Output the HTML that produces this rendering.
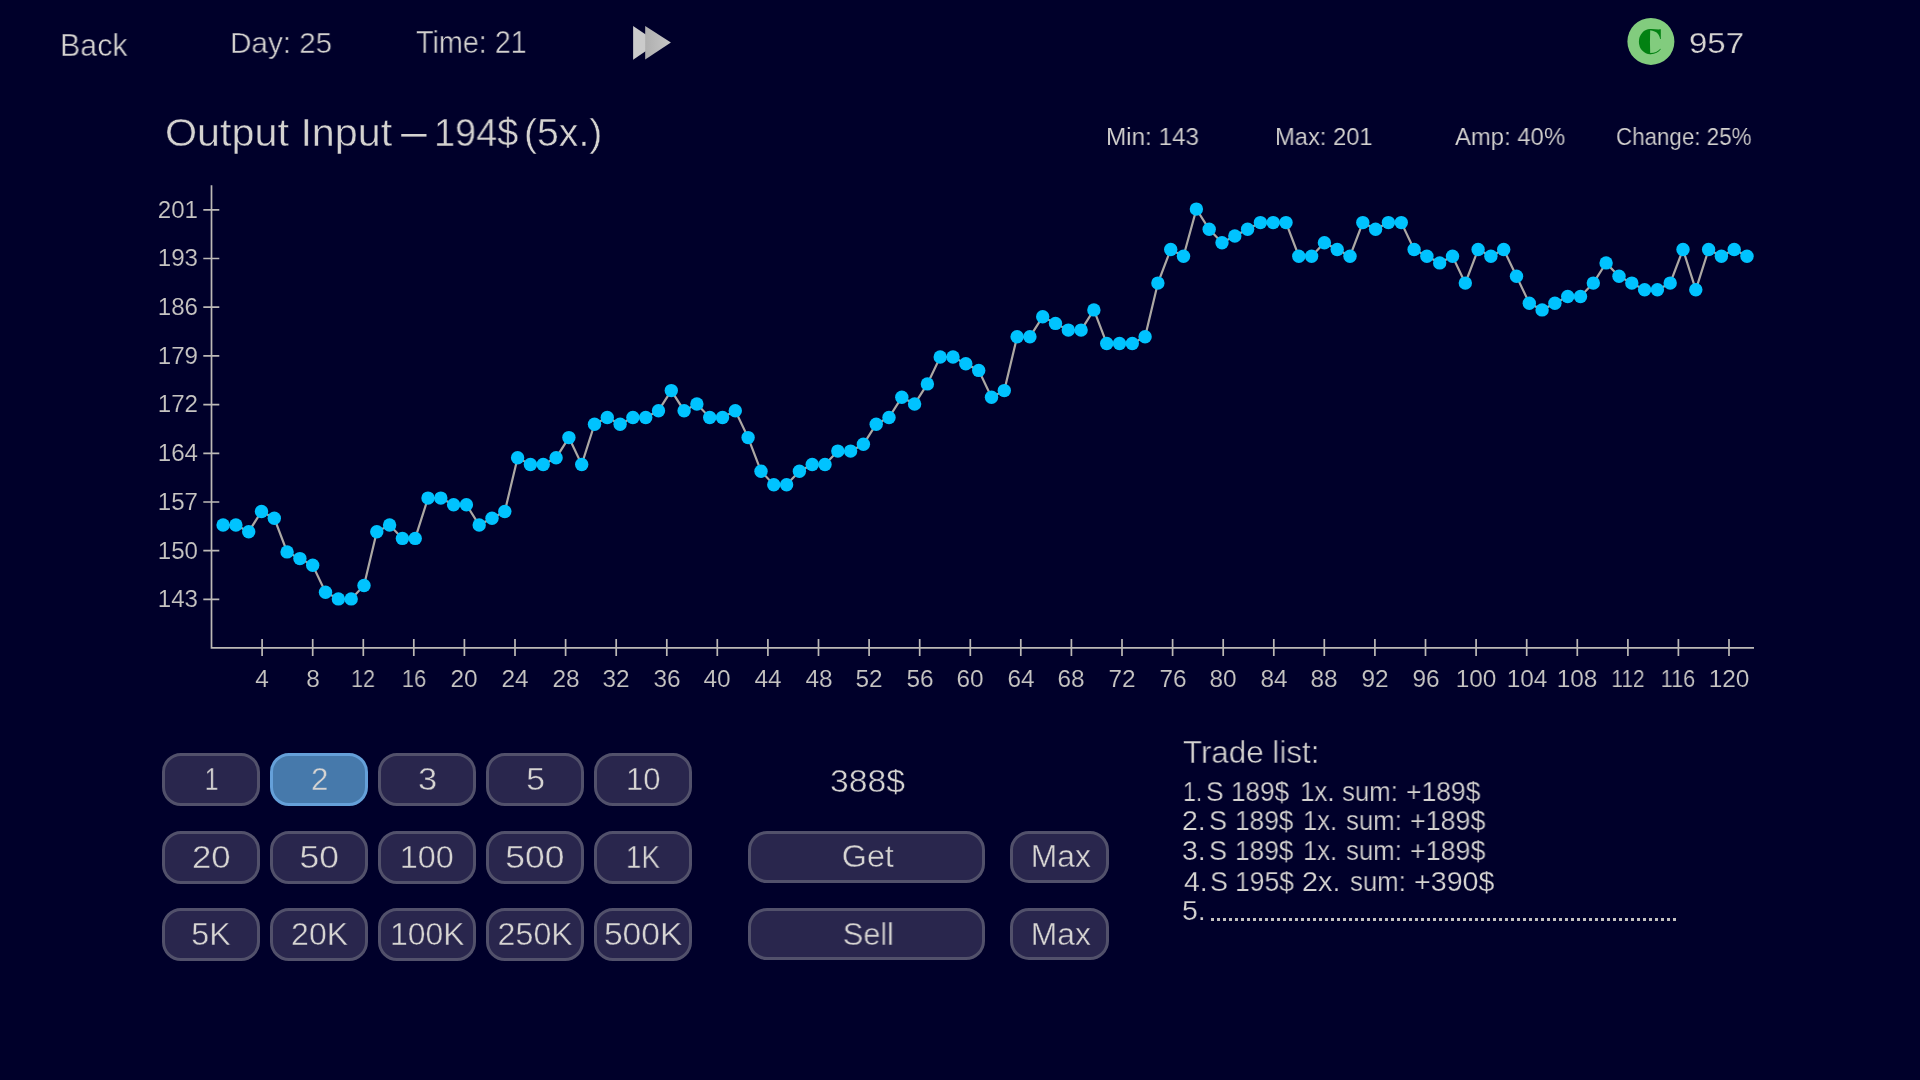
<!DOCTYPE html>
<html><head><meta charset="utf-8"><style>
html,body{margin:0;padding:0;}
body{width:1920px;height:1080px;background:#00002a;position:relative;overflow:hidden;font-family:"Liberation Sans",sans-serif;color:#d4d2d0;}
.t{position:absolute;white-space:nowrap;line-height:1;transform-origin:0 0;will-change:transform;-webkit-text-stroke:0.6px #00002a;}
.yl{position:absolute;left:97px;width:101px;text-align:right;line-height:1;color:#c6c4c2;will-change:transform;-webkit-text-stroke:0.15px #00002a;}
.xl{position:absolute;width:80px;text-align:center;line-height:1;color:#c6c4c2;will-change:transform;-webkit-text-stroke:0.15px #00002a;}
.b{position:absolute;box-sizing:border-box;border:3px solid #52516b;background:#29264d;border-radius:19px;display:flex;align-items:center;justify-content:center;font-size:31px;line-height:1;color:#d6d4d2;}
.b span{display:inline-block;padding-top:0px;will-change:transform;-webkit-text-stroke:0.4px #29264d;}
.b.sel span{-webkit-text-stroke:0.4px #4679ab;}
.b.sel{background:#4679ab;border-color:#65a0d9;}
svg{position:absolute;left:0;top:0;}
.dots{position:absolute;left:1210.5px;top:917.7px;width:466px;height:3.2px;background:repeating-linear-gradient(90deg,#c4c2c0 0 3.2px,transparent 3.2px 6px);}
</style></head><body>
<svg width="1920" height="1080" viewBox="0 0 1920 1080">
<defs><linearGradient id="ffg" x1="0" x2="1" y1="0" y2="0"><stop offset="0" stop-color="#afafaf"/><stop offset="1" stop-color="#c6c6c6"/></linearGradient></defs>
<polygon points="633.1,25.9 658,42.8 633.1,59.7" fill="#cbcbcb"/>
<polygon points="645.2,26.1 670.9,42.6 645.2,59.4" fill="url(#ffg)"/>
<circle cx="1650.9" cy="41.4" r="23.5" fill="#82cc7e"/>
<g transform="translate(1649.9 41.7)" fill="#028112"><path d="M0.3 -12.6A11.3 12.6 0 0 0 0.3 12.6L0.3 11.6Q-0.2 0 0.3 -11.6Z"/><path d="M0 -12.6C4 -12.8 7.5 -12 10.9 -12.4L10.9 -2.6L10.2 -2.6C9.6 -6.5 7.6 -10.6 0 -11.4Z"/><path d="M0 12.6C5 12.8 8.6 10.8 11 7.4L10.5 7.0C8 9.8 4.5 11.5 0 11.4Z"/></g>
<path d="M211.5 185.2V647.8H1754" fill="none" stroke="#bcb9b6" stroke-width="1.7"/>
<path d="M203.3 209.8H219.3 M203.3 258.5H219.3 M203.3 307.2H219.3 M203.3 355.9H219.3 M203.3 404.6H219.3 M203.3 453.3H219.3 M203.3 502.0H219.3 M203.3 550.7H219.3 M203.3 599.4H219.3 M262.1 639V656 M312.7 639V656 M363.3 639V656 M413.8 639V656 M464.4 639V656 M515.0 639V656 M565.6 639V656 M616.2 639V656 M666.8 639V656 M717.3 639V656 M767.9 639V656 M818.5 639V656 M869.1 639V656 M919.7 639V656 M970.3 639V656 M1020.8 639V656 M1071.4 639V656 M1122.0 639V656 M1172.6 639V656 M1223.2 639V656 M1273.8 639V656 M1324.3 639V656 M1374.9 639V656 M1425.5 639V656 M1476.1 639V656 M1526.7 639V656 M1577.3 639V656 M1627.9 639V656 M1678.4 639V656 M1729.0 639V656" fill="none" stroke="#bcb9b6" stroke-width="1.7"/>
<rect x="401.25" y="134" width="25.25" height="2.6" fill="#d4d2d0"/>
<polyline points="223.1,525.0 235.9,525.0 248.7,531.7 261.5,511.5 274.3,518.3 287.1,551.9 299.9,558.6 312.7,565.3 325.5,592.2 338.4,598.9 351.2,598.9 364.0,585.5 376.8,531.7 389.6,525.0 402.4,538.4 415.2,538.4 428.0,498.1 440.8,498.1 453.6,504.8 466.4,504.8 479.2,525.0 492.0,518.3 504.8,511.5 517.6,457.8 530.4,464.5 543.2,464.5 556.1,457.8 568.9,437.6 581.7,464.5 594.5,424.2 607.3,417.5 620.1,424.2 632.9,417.5 645.7,417.5 658.5,410.7 671.3,390.6 684.1,410.7 696.9,404.0 709.7,417.5 722.5,417.5 735.3,410.7 748.1,437.6 761.0,471.2 773.8,484.7 786.6,484.7 799.4,471.2 812.2,464.5 825.0,464.5 837.8,451.1 850.6,451.1 863.4,444.3 876.2,424.2 889.0,417.5 901.8,397.3 914.6,404.0 927.4,383.9 940.2,357.0 953.0,357.0 965.8,363.7 978.7,370.4 991.5,397.3 1004.3,390.6 1017.1,336.8 1029.9,336.8 1042.7,316.7 1055.5,323.4 1068.3,330.1 1081.1,330.1 1093.9,309.9 1106.7,343.5 1119.5,343.5 1132.3,343.5 1145.1,336.8 1157.9,283.1 1170.7,249.5 1183.5,256.2 1196.4,209.1 1209.2,229.3 1222.0,242.7 1234.8,236.0 1247.6,229.3 1260.4,222.6 1273.2,222.6 1286.0,222.6 1298.8,256.2 1311.6,256.2 1324.4,242.7 1337.2,249.5 1350.0,256.2 1362.8,222.6 1375.6,229.3 1388.4,222.6 1401.3,222.6 1414.1,249.5 1426.9,256.2 1439.7,262.9 1452.5,256.2 1465.3,283.1 1478.1,249.5 1490.9,256.2 1503.7,249.5 1516.5,276.3 1529.3,303.2 1542.1,309.9 1554.9,303.2 1567.7,296.5 1580.5,296.5 1593.3,283.1 1606.1,262.9 1619.0,276.3 1631.8,283.1 1644.6,289.8 1657.4,289.8 1670.2,283.1 1683.0,249.5 1695.8,289.8 1708.6,249.5 1721.4,256.2 1734.2,249.5 1747.0,256.2" fill="none" stroke="#aca8a4" stroke-width="2.2"/>
<g fill="#00c3ff"><circle cx="223.1" cy="525.0" r="6.7"/><circle cx="235.9" cy="525.0" r="6.7"/><circle cx="248.7" cy="531.7" r="6.7"/><circle cx="261.5" cy="511.5" r="6.7"/><circle cx="274.3" cy="518.3" r="6.7"/><circle cx="287.1" cy="551.9" r="6.7"/><circle cx="299.9" cy="558.6" r="6.7"/><circle cx="312.7" cy="565.3" r="6.7"/><circle cx="325.5" cy="592.2" r="6.7"/><circle cx="338.4" cy="598.9" r="6.7"/><circle cx="351.2" cy="598.9" r="6.7"/><circle cx="364.0" cy="585.5" r="6.7"/><circle cx="376.8" cy="531.7" r="6.7"/><circle cx="389.6" cy="525.0" r="6.7"/><circle cx="402.4" cy="538.4" r="6.7"/><circle cx="415.2" cy="538.4" r="6.7"/><circle cx="428.0" cy="498.1" r="6.7"/><circle cx="440.8" cy="498.1" r="6.7"/><circle cx="453.6" cy="504.8" r="6.7"/><circle cx="466.4" cy="504.8" r="6.7"/><circle cx="479.2" cy="525.0" r="6.7"/><circle cx="492.0" cy="518.3" r="6.7"/><circle cx="504.8" cy="511.5" r="6.7"/><circle cx="517.6" cy="457.8" r="6.7"/><circle cx="530.4" cy="464.5" r="6.7"/><circle cx="543.2" cy="464.5" r="6.7"/><circle cx="556.1" cy="457.8" r="6.7"/><circle cx="568.9" cy="437.6" r="6.7"/><circle cx="581.7" cy="464.5" r="6.7"/><circle cx="594.5" cy="424.2" r="6.7"/><circle cx="607.3" cy="417.5" r="6.7"/><circle cx="620.1" cy="424.2" r="6.7"/><circle cx="632.9" cy="417.5" r="6.7"/><circle cx="645.7" cy="417.5" r="6.7"/><circle cx="658.5" cy="410.7" r="6.7"/><circle cx="671.3" cy="390.6" r="6.7"/><circle cx="684.1" cy="410.7" r="6.7"/><circle cx="696.9" cy="404.0" r="6.7"/><circle cx="709.7" cy="417.5" r="6.7"/><circle cx="722.5" cy="417.5" r="6.7"/><circle cx="735.3" cy="410.7" r="6.7"/><circle cx="748.1" cy="437.6" r="6.7"/><circle cx="761.0" cy="471.2" r="6.7"/><circle cx="773.8" cy="484.7" r="6.7"/><circle cx="786.6" cy="484.7" r="6.7"/><circle cx="799.4" cy="471.2" r="6.7"/><circle cx="812.2" cy="464.5" r="6.7"/><circle cx="825.0" cy="464.5" r="6.7"/><circle cx="837.8" cy="451.1" r="6.7"/><circle cx="850.6" cy="451.1" r="6.7"/><circle cx="863.4" cy="444.3" r="6.7"/><circle cx="876.2" cy="424.2" r="6.7"/><circle cx="889.0" cy="417.5" r="6.7"/><circle cx="901.8" cy="397.3" r="6.7"/><circle cx="914.6" cy="404.0" r="6.7"/><circle cx="927.4" cy="383.9" r="6.7"/><circle cx="940.2" cy="357.0" r="6.7"/><circle cx="953.0" cy="357.0" r="6.7"/><circle cx="965.8" cy="363.7" r="6.7"/><circle cx="978.7" cy="370.4" r="6.7"/><circle cx="991.5" cy="397.3" r="6.7"/><circle cx="1004.3" cy="390.6" r="6.7"/><circle cx="1017.1" cy="336.8" r="6.7"/><circle cx="1029.9" cy="336.8" r="6.7"/><circle cx="1042.7" cy="316.7" r="6.7"/><circle cx="1055.5" cy="323.4" r="6.7"/><circle cx="1068.3" cy="330.1" r="6.7"/><circle cx="1081.1" cy="330.1" r="6.7"/><circle cx="1093.9" cy="309.9" r="6.7"/><circle cx="1106.7" cy="343.5" r="6.7"/><circle cx="1119.5" cy="343.5" r="6.7"/><circle cx="1132.3" cy="343.5" r="6.7"/><circle cx="1145.1" cy="336.8" r="6.7"/><circle cx="1157.9" cy="283.1" r="6.7"/><circle cx="1170.7" cy="249.5" r="6.7"/><circle cx="1183.5" cy="256.2" r="6.7"/><circle cx="1196.4" cy="209.1" r="6.7"/><circle cx="1209.2" cy="229.3" r="6.7"/><circle cx="1222.0" cy="242.7" r="6.7"/><circle cx="1234.8" cy="236.0" r="6.7"/><circle cx="1247.6" cy="229.3" r="6.7"/><circle cx="1260.4" cy="222.6" r="6.7"/><circle cx="1273.2" cy="222.6" r="6.7"/><circle cx="1286.0" cy="222.6" r="6.7"/><circle cx="1298.8" cy="256.2" r="6.7"/><circle cx="1311.6" cy="256.2" r="6.7"/><circle cx="1324.4" cy="242.7" r="6.7"/><circle cx="1337.2" cy="249.5" r="6.7"/><circle cx="1350.0" cy="256.2" r="6.7"/><circle cx="1362.8" cy="222.6" r="6.7"/><circle cx="1375.6" cy="229.3" r="6.7"/><circle cx="1388.4" cy="222.6" r="6.7"/><circle cx="1401.3" cy="222.6" r="6.7"/><circle cx="1414.1" cy="249.5" r="6.7"/><circle cx="1426.9" cy="256.2" r="6.7"/><circle cx="1439.7" cy="262.9" r="6.7"/><circle cx="1452.5" cy="256.2" r="6.7"/><circle cx="1465.3" cy="283.1" r="6.7"/><circle cx="1478.1" cy="249.5" r="6.7"/><circle cx="1490.9" cy="256.2" r="6.7"/><circle cx="1503.7" cy="249.5" r="6.7"/><circle cx="1516.5" cy="276.3" r="6.7"/><circle cx="1529.3" cy="303.2" r="6.7"/><circle cx="1542.1" cy="309.9" r="6.7"/><circle cx="1554.9" cy="303.2" r="6.7"/><circle cx="1567.7" cy="296.5" r="6.7"/><circle cx="1580.5" cy="296.5" r="6.7"/><circle cx="1593.3" cy="283.1" r="6.7"/><circle cx="1606.1" cy="262.9" r="6.7"/><circle cx="1619.0" cy="276.3" r="6.7"/><circle cx="1631.8" cy="283.1" r="6.7"/><circle cx="1644.6" cy="289.8" r="6.7"/><circle cx="1657.4" cy="289.8" r="6.7"/><circle cx="1670.2" cy="283.1" r="6.7"/><circle cx="1683.0" cy="249.5" r="6.7"/><circle cx="1695.8" cy="289.8" r="6.7"/><circle cx="1708.6" cy="249.5" r="6.7"/><circle cx="1721.4" cy="256.2" r="6.7"/><circle cx="1734.2" cy="249.5" r="6.7"/><circle cx="1747.0" cy="256.2" r="6.7"/></g>
</svg>
<div class="t" id="back" style="left:59.59px;top:29.86px;font-size:31.18px;transform:scaleX(0.9746);color:#d4d2d0;-webkit-text-stroke:0.45px #00002a">Back</div><div class="t" id="day" style="left:230.42px;top:27.71px;font-size:30.23px;transform:scaleX(0.9816);color:#d4d2d0;-webkit-text-stroke:0.45px #00002a">Day: 25</div><div class="t" id="time" style="left:415.63px;top:28.21px;font-size:30.81px;transform:scaleX(0.9328);color:#d4d2d0;-webkit-text-stroke:0.45px #00002a">Time: 21</div><div class="t" id="coins" style="left:1688.81px;top:27.77px;font-size:29.80px;transform:scaleX(1.1087);color:#d4d2d0;-webkit-text-stroke:0.25px #00002a">957</div><div class="t" id="t1" style="left:165.31px;top:113.51px;font-size:38.37px;transform:scaleX(1.0762);color:#d4d2d0;-webkit-text-stroke:0.45px #00002a">Output Input</div><div class="t" id="t2" style="left:433.74px;top:113.51px;font-size:38.37px;transform:scaleX(0.9877);color:#d4d2d0;-webkit-text-stroke:0.45px #00002a">194$</div><div class="t" id="t3" style="left:523.63px;top:113.51px;font-size:38.37px;transform:scaleX(1.0214);color:#d4d2d0;-webkit-text-stroke:0.45px #00002a">(5x.)</div><div class="t" id="min" style="left:1106.15px;top:124.53px;font-size:24.42px;transform:scaleX(0.9935);color:#d4d2d0;-webkit-text-stroke:0.15px #00002a">Min: 143</div><div class="t" id="max" style="left:1275.20px;top:124.53px;font-size:24.42px;transform:scaleX(0.9723);color:#d4d2d0;-webkit-text-stroke:0.15px #00002a">Max: 201</div><div class="t" id="amp" style="left:1455.14px;top:124.53px;font-size:24.42px;transform:scaleX(0.9778);color:#d4d2d0;-webkit-text-stroke:0.15px #00002a">Amp: 40%</div><div class="t" id="chg" style="left:1615.85px;top:124.53px;font-size:24.42px;transform:scaleX(0.9157);color:#d4d2d0;-webkit-text-stroke:0.15px #00002a">Change: 25%</div><div class="t" id="money" style="left:830.21px;top:766.37px;font-size:31.10px;transform:scaleX(1.0854);color:#d4d2d0;-webkit-text-stroke:0.45px #00002a">388$</div><div class="t" id="trade" style="left:1182.90px;top:737.05px;font-size:31.83px;transform:scaleX(0.9846);color:#d4d2d0;-webkit-text-stroke:0.45px #00002a">Trade list:</div><div class="t" id="tl0_0" style="left:1182.83px;top:776.88px;font-size:28.49px;transform:scaleX(0.8146);color:#d4d2d0;-webkit-text-stroke:0.25px #00002a">1.</div><div class="t" id="tl0_1" style="left:1205.59px;top:776.88px;font-size:28.49px;transform:scaleX(0.9240);color:#d4d2d0;-webkit-text-stroke:0.25px #00002a">S</div><div class="t" id="tl0_2" style="left:1231.42px;top:776.88px;font-size:28.49px;transform:scaleX(0.9165);color:#d4d2d0;-webkit-text-stroke:0.25px #00002a">189$</div><div class="t" id="tl0_3" style="left:1299.83px;top:776.88px;font-size:28.49px;transform:scaleX(0.9121);color:#d4d2d0;-webkit-text-stroke:0.25px #00002a">1x.</div><div class="t" id="tl0_4" style="left:1342.35px;top:776.88px;font-size:28.49px;transform:scaleX(0.9064);color:#d4d2d0;-webkit-text-stroke:0.25px #00002a">sum:</div><div class="t" id="tl0_5" style="left:1406.43px;top:776.88px;font-size:28.49px;transform:scaleX(0.9293);color:#d4d2d0;-webkit-text-stroke:0.25px #00002a">+189$</div><div class="t" id="tl1_0" style="left:1182.29px;top:806.48px;font-size:28.49px;transform:scaleX(0.9840);color:#d4d2d0;-webkit-text-stroke:0.25px #00002a">2.</div><div class="t" id="tl1_1" style="left:1209.00px;top:806.48px;font-size:28.49px;transform:scaleX(0.9503);color:#d4d2d0;-webkit-text-stroke:0.25px #00002a">S</div><div class="t" id="tl1_2" style="left:1234.83px;top:806.48px;font-size:28.49px;transform:scaleX(0.9218);color:#d4d2d0;-webkit-text-stroke:0.25px #00002a">189$</div><div class="t" id="tl1_3" style="left:1302.68px;top:806.48px;font-size:28.49px;transform:scaleX(0.8992);color:#d4d2d0;-webkit-text-stroke:0.25px #00002a">1x.</div><div class="t" id="tl1_4" style="left:1345.75px;top:806.48px;font-size:28.49px;transform:scaleX(0.9062);color:#d4d2d0;-webkit-text-stroke:0.25px #00002a">sum:</div><div class="t" id="tl1_5" style="left:1409.80px;top:806.48px;font-size:28.49px;transform:scaleX(0.9418);color:#d4d2d0;-webkit-text-stroke:0.25px #00002a">+189$</div><div class="t" id="tl2_0" style="left:1182.21px;top:836.48px;font-size:28.49px;transform:scaleX(0.9868);color:#d4d2d0;-webkit-text-stroke:0.25px #00002a">3.</div><div class="t" id="tl2_1" style="left:1209.00px;top:836.48px;font-size:28.49px;transform:scaleX(0.9503);color:#d4d2d0;-webkit-text-stroke:0.25px #00002a">S</div><div class="t" id="tl2_2" style="left:1234.83px;top:836.48px;font-size:28.49px;transform:scaleX(0.9218);color:#d4d2d0;-webkit-text-stroke:0.25px #00002a">189$</div><div class="t" id="tl2_3" style="left:1302.68px;top:836.48px;font-size:28.49px;transform:scaleX(0.8992);color:#d4d2d0;-webkit-text-stroke:0.25px #00002a">1x.</div><div class="t" id="tl2_4" style="left:1345.75px;top:836.48px;font-size:28.49px;transform:scaleX(0.9062);color:#d4d2d0;-webkit-text-stroke:0.25px #00002a">sum:</div><div class="t" id="tl2_5" style="left:1409.80px;top:836.48px;font-size:28.49px;transform:scaleX(0.9418);color:#d4d2d0;-webkit-text-stroke:0.25px #00002a">+189$</div><div class="t" id="tl3_0" style="left:1183.69px;top:866.68px;font-size:28.49px;transform:scaleX(1.0000);color:#d4d2d0;-webkit-text-stroke:0.25px #00002a">4.</div><div class="t" id="tl3_1" style="left:1209.84px;top:866.68px;font-size:28.49px;transform:scaleX(0.9421);color:#d4d2d0;-webkit-text-stroke:0.25px #00002a">S</div><div class="t" id="tl3_2" style="left:1235.43px;top:866.68px;font-size:28.49px;transform:scaleX(0.9298);color:#d4d2d0;-webkit-text-stroke:0.25px #00002a">195$</div><div class="t" id="tl3_3" style="left:1302.48px;top:866.68px;font-size:28.49px;transform:scaleX(1.0100);color:#d4d2d0;-webkit-text-stroke:0.25px #00002a">2x.</div><div class="t" id="tl3_4" style="left:1350.41px;top:866.68px;font-size:28.49px;transform:scaleX(0.9049);color:#d4d2d0;-webkit-text-stroke:0.25px #00002a">sum:</div><div class="t" id="tl3_5" style="left:1413.88px;top:866.68px;font-size:28.49px;transform:scaleX(1.0059);color:#d4d2d0;-webkit-text-stroke:0.25px #00002a">+390$</div><div class="t" id="tl4_0" style="left:1182.29px;top:896.48px;font-size:28.49px;transform:scaleX(0.9840);color:#d4d2d0;-webkit-text-stroke:0.25px #00002a">5.</div>
<div class="yl" style="top:197.67px;font-size:24.13px">201</div><div class="yl" style="top:246.37px;font-size:24.13px">193</div><div class="yl" style="top:295.07px;font-size:24.13px">186</div><div class="yl" style="top:343.77px;font-size:24.13px">179</div><div class="yl" style="top:392.47px;font-size:24.13px">172</div><div class="yl" style="top:441.17px;font-size:24.13px">164</div><div class="yl" style="top:489.87px;font-size:24.13px">157</div><div class="yl" style="top:538.57px;font-size:24.13px">150</div><div class="yl" style="top:587.27px;font-size:24.13px">143</div>
<div class="xl" style="left:222.1px;top:666.73px;font-size:24.42px;transform:scaleX(1)">4</div><div class="xl" style="left:272.7px;top:666.73px;font-size:24.42px;transform:scaleX(1)">8</div><div class="xl" style="left:323.3px;top:666.73px;font-size:24.42px;transform:scaleX(0.88)">12</div><div class="xl" style="left:373.8px;top:666.73px;font-size:24.42px;transform:scaleX(0.9)">16</div><div class="xl" style="left:424.4px;top:666.73px;font-size:24.42px;transform:scaleX(1)">20</div><div class="xl" style="left:475.0px;top:666.73px;font-size:24.42px;transform:scaleX(1)">24</div><div class="xl" style="left:525.6px;top:666.73px;font-size:24.42px;transform:scaleX(1)">28</div><div class="xl" style="left:576.2px;top:666.73px;font-size:24.42px;transform:scaleX(1)">32</div><div class="xl" style="left:626.8px;top:666.73px;font-size:24.42px;transform:scaleX(1)">36</div><div class="xl" style="left:677.3px;top:666.73px;font-size:24.42px;transform:scaleX(1)">40</div><div class="xl" style="left:727.9px;top:666.73px;font-size:24.42px;transform:scaleX(1)">44</div><div class="xl" style="left:778.5px;top:666.73px;font-size:24.42px;transform:scaleX(1)">48</div><div class="xl" style="left:829.1px;top:666.73px;font-size:24.42px;transform:scaleX(1)">52</div><div class="xl" style="left:879.7px;top:666.73px;font-size:24.42px;transform:scaleX(1)">56</div><div class="xl" style="left:930.3px;top:666.73px;font-size:24.42px;transform:scaleX(1)">60</div><div class="xl" style="left:980.8px;top:666.73px;font-size:24.42px;transform:scaleX(1)">64</div><div class="xl" style="left:1031.4px;top:666.73px;font-size:24.42px;transform:scaleX(1)">68</div><div class="xl" style="left:1082.0px;top:666.73px;font-size:24.42px;transform:scaleX(1)">72</div><div class="xl" style="left:1132.6px;top:666.73px;font-size:24.42px;transform:scaleX(1)">76</div><div class="xl" style="left:1183.2px;top:666.73px;font-size:24.42px;transform:scaleX(1)">80</div><div class="xl" style="left:1233.8px;top:666.73px;font-size:24.42px;transform:scaleX(1)">84</div><div class="xl" style="left:1284.3px;top:666.73px;font-size:24.42px;transform:scaleX(1)">88</div><div class="xl" style="left:1334.9px;top:666.73px;font-size:24.42px;transform:scaleX(1)">92</div><div class="xl" style="left:1385.5px;top:666.73px;font-size:24.42px;transform:scaleX(1)">96</div><div class="xl" style="left:1436.1px;top:666.73px;font-size:24.42px;transform:scaleX(1)">100</div><div class="xl" style="left:1486.7px;top:666.73px;font-size:24.42px;transform:scaleX(1)">104</div><div class="xl" style="left:1537.3px;top:666.73px;font-size:24.42px;transform:scaleX(1)">108</div><div class="xl" style="left:1587.9px;top:666.73px;font-size:24.42px;transform:scaleX(0.855)">112</div><div class="xl" style="left:1638.4px;top:666.73px;font-size:24.42px;transform:scaleX(0.89)">116</div><div class="xl" style="left:1689.0px;top:666.73px;font-size:24.42px;transform:scaleX(1)">120</div>
<div class="b" style="left:162.2px;top:753.2px;width:98px;height:53px"><span id="b00" style="transform:translateX(0px) scaleX(0.8067)">1</span></div><div class="b sel" style="left:270.25px;top:753.2px;width:98px;height:53px"><span id="b01" style="transform:translateX(0px) scaleX(1.0103)">2</span></div><div class="b" style="left:378.29999999999995px;top:753.2px;width:98px;height:53px"><span id="b02" style="transform:translateX(0px) scaleX(1.1129)">3</span></div><div class="b" style="left:486.34999999999997px;top:753.2px;width:98px;height:53px"><span id="b03" style="transform:translateX(0px) scaleX(1.0855)">5</span></div><div class="b" style="left:594.4px;top:753.2px;width:98px;height:53px"><span id="b04" style="transform:translateX(0px) scaleX(1.0000)">10</span></div><div class="b" style="left:162.2px;top:830.9px;width:98px;height:53px"><span id="b10" style="transform:translateX(0px) scaleX(1.1213)">20</span></div><div class="b" style="left:270.25px;top:830.9px;width:98px;height:53px"><span id="b11" style="transform:translateX(0px) scaleX(1.1430)">50</span></div><div class="b" style="left:378.29999999999995px;top:830.9px;width:98px;height:53px"><span id="b12" style="transform:translateX(0px) scaleX(1.0438)">100</span></div><div class="b" style="left:486.34999999999997px;top:830.9px;width:98px;height:53px"><span id="b13" style="transform:translateX(0px) scaleX(1.1429)">500</span></div><div class="b" style="left:594.4px;top:830.9px;width:98px;height:53px"><span id="b14" style="transform:translateX(0px) scaleX(0.8993)">1K</span></div><div class="b" style="left:162.2px;top:908px;width:98px;height:53px"><span id="b20" style="transform:translateX(0px) scaleX(1.0400)">5K</span></div><div class="b" style="left:270.25px;top:908px;width:98px;height:53px"><span id="b21" style="transform:translateX(0px) scaleX(1.0331)">20K</span></div><div class="b" style="left:378.29999999999995px;top:908px;width:98px;height:53px"><span id="b22" style="transform:translateX(0px) scaleX(1.0294)">100K</span></div><div class="b" style="left:486.34999999999997px;top:908px;width:98px;height:53px"><span id="b23" style="transform:translateX(0px) scaleX(1.0381)">250K</span></div><div class="b" style="left:594.4px;top:908px;width:98px;height:53px"><span id="b24" style="transform:translateX(0px) scaleX(1.0863)">500K</span></div><div class="b" style="left:748.3px;top:830.8px;width:237px;height:52px"><span id="bget" style="transform:translateX(0.8px) scaleX(1.0406)">Get</span></div><div class="b" style="left:748.3px;top:908px;width:237px;height:52px"><span id="bsell" style="transform:translateX(1.5px) scaleX(0.9899)">Sell</span></div><div class="b" style="left:1010.1px;top:830.8px;width:98.5px;height:52px"><span id="bmax1" style="transform:translateX(1.5px) scaleX(1.0282)">Max</span></div><div class="b" style="left:1010.1px;top:908px;width:98.5px;height:52px"><span id="bmax2" style="transform:translateX(1.5px) scaleX(1.0282)">Max</span></div>
<div class="dots"></div>
</body></html>
